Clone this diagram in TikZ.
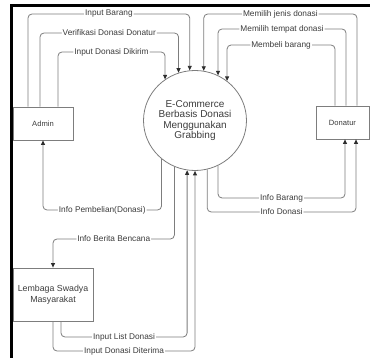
\documentclass[tikz,border=0pt]{standalone}
\usepackage{fontspec}
\setmainfont{Liberation Sans}
\usetikzlibrary{arrows.meta,shapes.geometric}
\definecolor{linegray}{RGB}{125,125,125}
\definecolor{textgray}{RGB}{60,60,60}
\definecolor{tipgray}{RGB}{45,45,45}

\begin{document}
\begin{tikzpicture}[x=1pt,y=-1pt,
	entity/.style={draw=linegray, line width=0.8pt, text=textgray, align=center, inner sep=0pt},
	process/.style={ellipse, draw=linegray, line width=0.8pt, text=textgray, align=center, minimum width=88pt, minimum height=100pt, inner sep=0pt, font=\fontsize{10}{10.5}\selectfont},
	flow/.style={draw=linegray, line width=0.8pt, rounded corners=4pt, -{Triangle[length=4.5pt,width=4pt,color=tipgray]}},
	lbl/.style={fill=white, text=textgray, inner sep=1pt, font=\fontsize{8.3}{9}\selectfont}]
	\useasboundingbox (0,0) rectangle (370,358);
	\draw[line width=3pt] (11.5,360) -- (11.5,5.5) -- (372,5.5);

	\node[entity, minimum width=60pt, minimum height=33pt, font=\fontsize{7.6}{8}\selectfont] (admin) at (43,123.5) {Admin};
	\node[entity, minimum width=53pt, minimum height=33pt, font=\fontsize{7.6}{8}\selectfont] (donatur) at (342.5,122.5) {Donatur};
	\node[entity, minimum width=80pt, minimum height=53pt, font=\fontsize{8.8}{11}\selectfont] (lsm) at (53,294.5) {Lembaga Swadya\\Masyarakat};
	\node[process] (ecom) at (195,120.5) {E-Commerce\\Berbasis Donasi\\Menggunakan\\Grabbing};

	\draw[flow] ([xshift=-15pt]admin.north) |- node[lbl,pos=0.75]{Input Barang} (ecom.96 |- 0,14) -- (ecom.96);
	\draw[flow] ([xshift=-3pt]admin.north) |- node[lbl,pos=0.75]{Verifikasi Donasi Donatur} (ecom.109 |- 0,33) -- (ecom.109);
	\draw[flow] ([xshift=15pt]admin.north) |- node[lbl,pos=0.75]{Input Donasi Dikirim} (ecom.126 |- 0,52) -- (ecom.126);

	\draw[flow] ([xshift=14.5pt]donatur.north) |- node[lbl,pos=0.75]{Memilih jenis donasi} (ecom.80 |- 0,14) -- (ecom.80);
	\draw[flow] ([xshift=3.5pt]donatur.north) |- node[lbl,pos=0.75]{Memilih tempat donasi} (ecom.63 |- 0,29) -- (ecom.63);
	\draw[flow] ([xshift=-7.5pt]donatur.north) |- node[lbl,pos=0.75]{Membeli barang} (ecom.51 |- 0,45) -- (ecom.51);

	\draw[flow] (ecom.297) |- node[lbl,pos=0.75]{Info Barang} ([xshift=2.5pt]donatur.south |- 0,198) -- ([xshift=2.5pt]donatur.south);
	\draw[flow] (ecom.284) |- node[lbl,pos=0.75]{Info Donasi} ([xshift=13.5pt]donatur.south |- 0,212) -- ([xshift=13.5pt]donatur.south);

	\draw[flow] (ecom.229) |- node[lbl,pos=0.75]{Info Pembelian(Donasi)} (admin.south |- 0,210) -- (admin.south);
	\draw[flow] (ecom.246) |- node[lbl,pos=0.75]{Info Berita Bencana} (lsm.north |- 0,239) -- (lsm.north);

	\draw[flow] ([xshift=8pt]lsm.south) |- node[lbl,pos=0.75]{Input List Donasi} (ecom.261 |- 0,337) -- (ecom.261);
	\draw[flow] (lsm.south) |- node[lbl,pos=0.75]{Input Donasi Diterima} (ecom.270 |- 0,351) -- (ecom.270);
\end{tikzpicture}
\end{document}
